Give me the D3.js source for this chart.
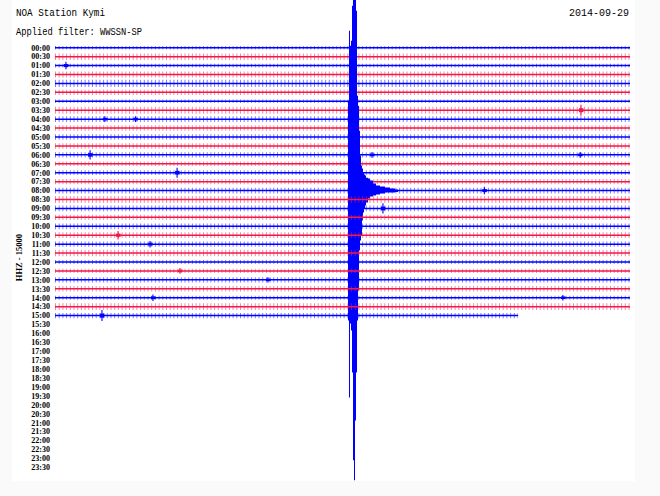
<!DOCTYPE html>
<html><head><meta charset="utf-8">
<script src="https://cdn.jsdelivr.net/npm/d3@7/dist/d3.min.js"></script>
<style>
html,body{margin:0;padding:0;background:#fafafa;}
svg{display:block;}
</style></head>
<body><div id="chart"></div>
<script>
// ---------------- DATA ----------------
const title = "NOA Station Kymi";
const filterText = "Applied filter: WWSSN-SP";
const dateText = "2014-09-29";
const channelText = "HHZ - 15000";

const rowLabels = ["00:00","00:30","01:00","01:30","02:00","02:30","03:00","03:30",
  "04:00","04:30","05:00","05:30","06:00","06:30","07:00","07:30",
  "08:00","08:30","09:00","09:30","10:00","10:30","11:00","11:30",
  "12:00","12:30","13:00","13:30","14:00","14:30","15:00","15:30",
  "16:00","16:30","17:00","17:30","18:00","18:30","19:00","19:30",
  "20:00","20:30","21:00","21:30","22:00","22:30","23:00","23:30"];

// background noise level of each recorded row (in trace spacings)
const rowNoise = [0.12,0.28,0.12,0.24,0.32,0.22,0.12,0.30,
  0.24,0.22,0.22,0.22,0.22,0.16,0.18,0.22,
  0.24,0.30,0.24,0.22,0.24,0.24,0.22,0.28,
  0.14,0.16,0.22,0.22,0.14,0.30,0.22];
// minutes recorded in the last (15:00) row
const lastRowMinutes = 24.16;

// isolated small events: [row, minute, amplitude in trace spacings]
const spikes = [
  [2, 0.57, 0.35],
  [7, 27.44, 0.55],
  [8, 2.6, 0.25],[8, 4.2, 0.25],
  [12, 1.83, 0.45],[12, 16.54, 0.25],[12, 27.4, 0.25],
  [14, 6.37, 0.50],
  [16, 22.4, 0.35],
  [18, 17.11, 0.50],
  [21, 3.29, 0.40],
  [22, 4.96, 0.30],
  [25, 6.52, 0.25],
  [26, 11.11, 0.22],
  [28, 5.11, 0.30],[28, 26.5, 0.25],
  [30, 2.45, 0.55]
];

// main earthquake, recorded in the 08:00 row
const eventRow = 16;
const eventMinutes = [15.287,15.339,15.391,15.443,15.496,15.548,15.600,15.652,15.704,15.757,
  15.809,15.861,15.913,15.965,16.017,16.070,16.122,16.174,16.226,16.330,
  16.435,16.591,16.748,16.957,17.217,17.478,17.739,17.90];
const eventUp = [10.07,17.9,16.23,16.79,20.7,22.0,22.0,22.0,20.14,10.63,
  9.51,6.71,3.92,2.8,2.46,2.01,1.79,1.68,1.45,1.34,
  1.12,0.78,0.56,0.45,0.34,0.22,0.11,0.0];
const eventDown = [14.55,23.16,14.88,15.67,20.37,30.21,32.45,25.74,20.37,14.55,
  11.19,6.71,5.6,5.04,3.36,2.46,2.01,1.68,1.34,0.9,
  0.67,0.56,0.45,0.34,0.22,0.22,0.17,0.0];

const rowColors = ["#0000ff", "#f0184a"];

// ---------------- CHART ----------------
const W = 660, H = 496;
const svg = d3.select("#chart").append("svg").attr("width", W).attr("height", H);
svg.append("rect").attr("x", 12).attr("y", 0).attr("width", 623).attr("height", 481).attr("fill", "#fff");

const x = d3.scaleLinear().domain([0, 30]).range([55, 630]);
const y = d3.scaleLinear().domain([0, 47]).range([47.7, 467.4]);
const step = y(1) - y(0);
const amp = d3.scaleLinear().domain([0, 1]).range([0, step]);

// texts
svg.append("text").attr("x", 16).attr("y", 16).text(title)
  .attr("font-family", "Liberation Mono").attr("font-size", 10.5)
  .attr("textLength", 89).attr("lengthAdjust", "spacingAndGlyphs");
svg.append("text").attr("x", 16).attr("y", 34.5).text(filterText)
  .attr("font-family", "Liberation Mono").attr("font-size", 10.5)
  .attr("textLength", 126).attr("lengthAdjust", "spacingAndGlyphs");
svg.append("text").attr("x", 629).attr("y", 15.7).text(dateText)
  .attr("text-anchor", "end")
  .attr("font-family", "Liberation Mono").attr("font-size", 10.5)
  .attr("textLength", 60).attr("lengthAdjust", "spacingAndGlyphs");
svg.append("text").text(channelText)
  .attr("transform", `translate(22,${y(23.5)}) rotate(-90)`)
  .attr("text-anchor", "middle")
  .attr("font-family", "Liberation Serif").attr("font-size", 8.5).attr("font-weight", "bold");

// row labels
svg.append("g").selectAll("text").data(rowLabels).join("text")
  .attr("x", 50).attr("y", (d, i) => y(i)).attr("dy", "0.35em")
  .attr("text-anchor", "end")
  .attr("font-family", "Liberation Serif").attr("font-size", 8).attr("font-weight", "bold")
  .text(d => d);

// traces, drawn in time order so later rows overlay the big event
const traces = svg.append("g");
const area = d3.area()
  .x(d => x(d.m))
  .y0(d => y(eventRow) + amp(d.down))
  .y1(d => y(eventRow) - amp(d.up))
  .curve(d3.curveStepAfter);

rowNoise.forEach((nz, i) => {
  const col = rowColors[i % 2];
  const g = traces.append("g");
  const endMin = i === rowNoise.length - 1 ? lastRowMinutes : 30;
  const yb = y(i);
  g.append("line").attr("x1", x(0)).attr("x2", x(endMin)).attr("y1", yb).attr("y2", yb)
    .attr("stroke", col).attr("stroke-width", 1.5);
  g.append("line").attr("x1", x(0)).attr("x2", x(endMin)).attr("y1", yb).attr("y2", yb)
    .attr("stroke", col).attr("stroke-width", 1.5 + 2 * amp(nz))
    .attr("stroke-dasharray", "1 2.7").attr("opacity", 0.5);
  spikes.filter(s => s[0] === i).forEach(s => {
    g.append("line").attr("x1", x(s[1])).attr("x2", x(s[1]))
      .attr("y1", yb - amp(s[2]) - 0.6).attr("y2", yb + amp(s[2]) + 0.6)
      .attr("stroke", col).attr("stroke-width", 1.1);
    g.append("line").attr("x1", x(s[1]) - 2).attr("x2", x(s[1]) + 2.5)
      .attr("y1", yb).attr("y2", yb)
      .attr("stroke", col).attr("stroke-width", 1.5 + 0.5 * amp(s[2]));
  });
  if (i === eventRow) {
    const ev = eventMinutes.map((m, k) => ({ m, up: eventUp[k], down: eventDown[k] }));
    g.append("path").datum(ev).attr("d", area).attr("fill", col);
  }
});
</script></body></html>
